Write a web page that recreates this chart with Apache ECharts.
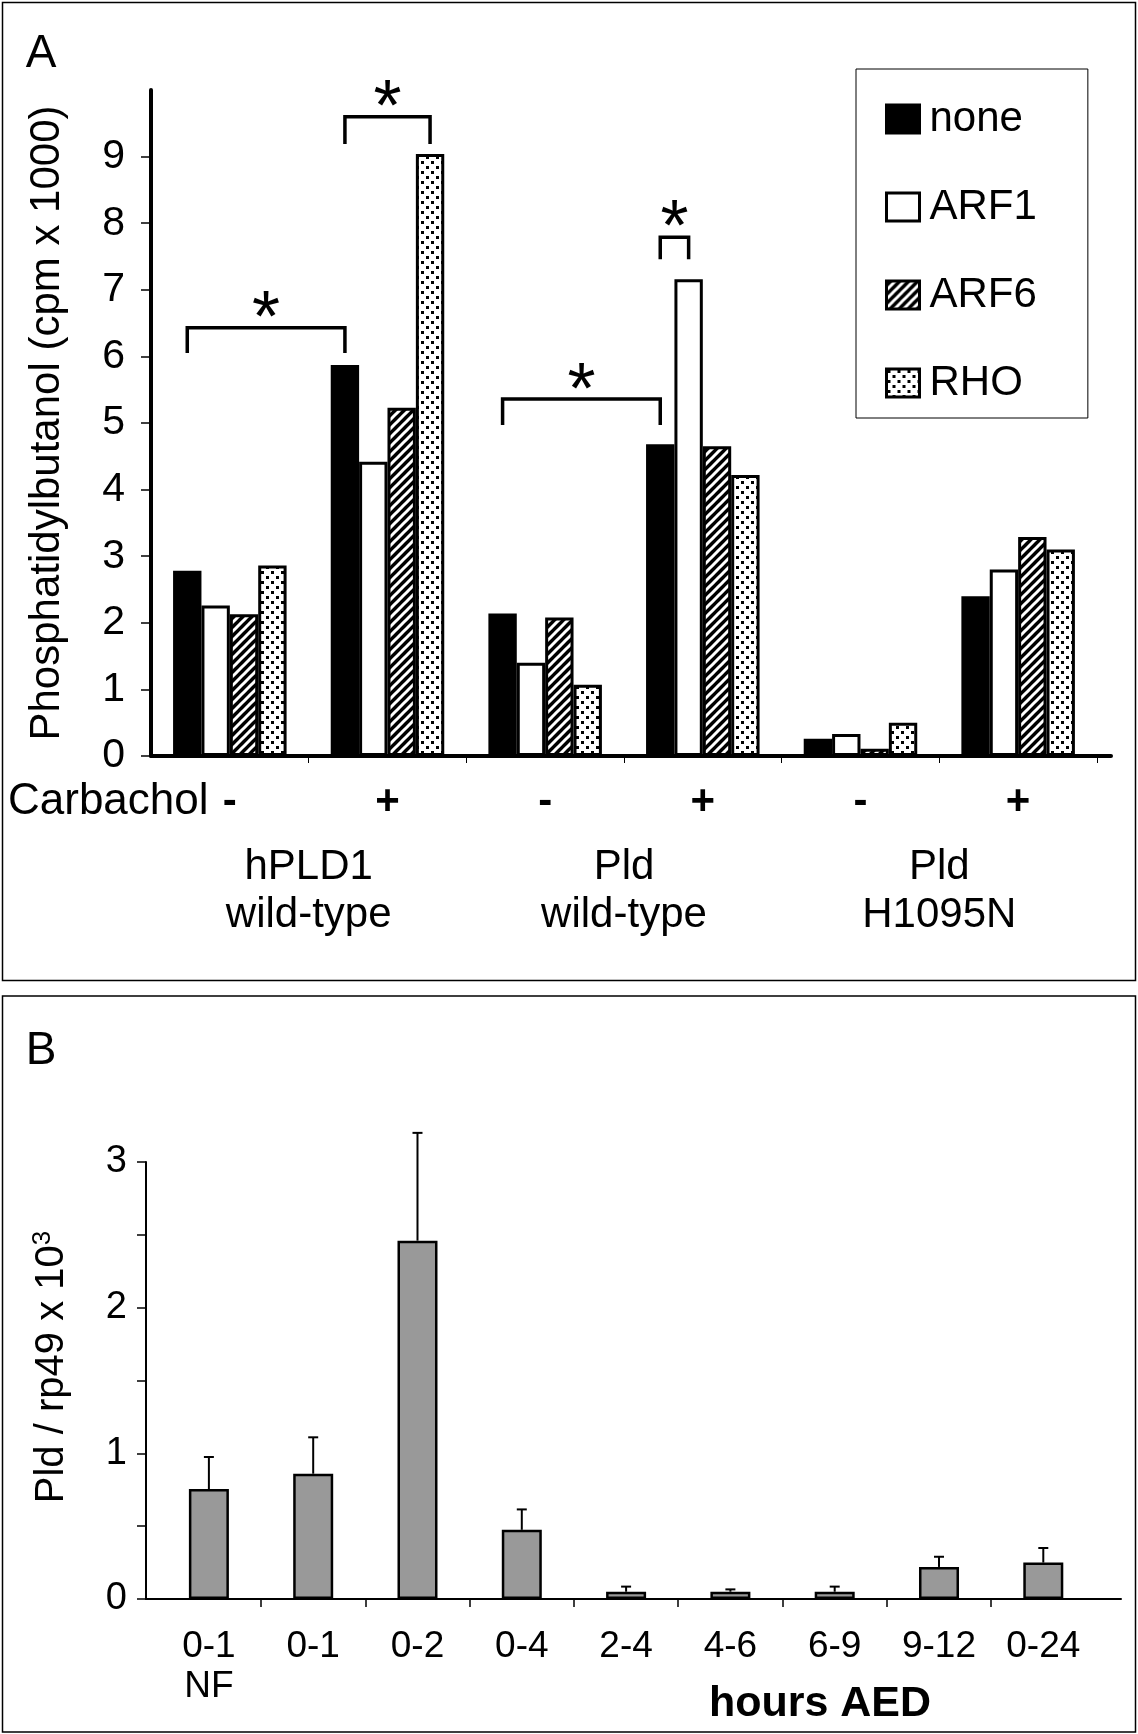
<!DOCTYPE html>
<html><head><meta charset="utf-8">
<script src="https://cdn.jsdelivr.net/npm/echarts@6/dist/echarts.min.js"></script>
<style>html,body{margin:0;padding:0;background:#fff}#c{width:1138px;height:1734px}</style>
</head><body><div id="c"></div>
<script>
// ---------- Panel A data ----------
const carbachol = ['-', '+', '-', '+', '-', '+'];
const constructs = ['hPLD1\nwild-type', 'Pld\nwild-type', 'Pld\nH1095N'];
const treatments = ['none', 'ARF1', 'ARF6', 'RHO'];
const noneVals = [2.78, 5.87, 2.14, 4.68, 0.26, 2.40];
const arf1Vals = [2.26, 4.42, 1.40, 7.16, 0.33, 2.80];
const arf6Vals = [2.13, 5.23, 2.08, 4.65, 0.11, 3.29];
const rhoVals  = [2.86, 9.04, 1.07, 4.22, 0.50, 3.10];
const yTicksA = [0, 1, 2, 3, 4, 5, 6, 7, 8, 9];
// significance brackets: [cat1, bar1, cat2, bar2, top, legEnd, star]
const brackets = [
  [0, 0, 1, 0, 6.43, 6.05, 6.78],
  [1, 0, 1, 3, 9.60, 9.19, 9.95],
  [2, 0, 3, 0, 5.36, 4.97, 5.70],
  [3, 0, 3, 1, 7.79, 7.46, 8.15]
];
// ---------- Panel B data ----------
const hours = ['0-1\nNF', '0-1', '0-2', '0-4', '2-4', '4-6', '6-9', '9-12', '0-24'];
const pldMean = [0.755, 0.86, 2.46, 0.475, 0.05, 0.05, 0.05, 0.22, 0.25];
const pldErr  = [0.22, 0.25, 0.74, 0.14, 0.035, 0.016, 0.035, 0.07, 0.10];
const yTicksB = [0, 1, 2, 3];

const FONT = '"Liberation Sans", Arial, Helvetica, sans-serif';
const GAP = 0.28;

function stripeTile() {
  const s = 9, c = document.createElement('canvas'); c.width = s; c.height = s;
  const g = c.getContext('2d');
  g.fillStyle = '#000'; g.fillRect(0, 0, s, s);
  g.strokeStyle = '#fff'; g.lineWidth = 3; g.lineCap = 'square';
  for (let k = -1; k <= 1; k++) { g.beginPath(); g.moveTo(k * s, s); g.lineTo(k * s + s, 0); g.stroke(); }
  return c;
}
function dotTile() {
  const s = 10, c = document.createElement('canvas'); c.width = s; c.height = s;
  const g = c.getContext('2d');
  g.fillStyle = '#fff'; g.fillRect(0, 0, s, s);
  g.fillStyle = '#000'; g.fillRect(1, 1, 3, 3); g.fillRect(6, 6, 3, 3);
  return c;
}
const fills = ['#000', '#fff', { image: stripeTile(), repeat: 'repeat' }, { image: dotTile(), repeat: 'repeat' }];
const seriesValsA = [noneVals, arf1Vals, arf6Vals, rhoVals];

const chart = echarts.init(document.getElementById('c'), null, { renderer: 'canvas' });

function renderBracket(params, api) {
  const band = api.size([1, 0])[0];
  const bw = band * (1 - GAP) / 4;
  const xa = api.coord([api.value(0), 0])[0] + (api.value(1) - 1.5) * bw;
  const xb = api.coord([api.value(2), 0])[0] + (api.value(3) - 1.5) * bw;
  const yTop = api.coord([0, api.value(4)])[1];
  const yLeg = api.coord([0, api.value(5)])[1];
  const yStar = api.coord([0, api.value(6)])[1];
  return { type: 'group', children: [
    { type: 'polyline', shape: { points: [[xa, yLeg], [xa, yTop], [xb, yTop], [xb, yLeg]] },
      style: { stroke: '#000', lineWidth: 3.5, fill: null } },
    { type: 'text', x: (xa + xb) / 2, y: yStar + 17,
      style: { text: '*', font: '72px ' + FONT, fill: '#000', align: 'center', verticalAlign: 'middle' } }
  ]};
}
function renderErr(params, api) {
  const x = api.value(0), m = api.value(1), e = api.value(2);
  const p0 = api.coord([x, m]), p1 = api.coord([x, m + e]);
  return { type: 'group', children: [
    { type: 'line', shape: { x1: p0[0], y1: p0[1], x2: p1[0], y2: p1[1] }, style: { stroke: '#000', lineWidth: 2 } },
    { type: 'line', shape: { x1: p1[0] - 5, y1: p1[1], x2: p1[0] + 5, y2: p1[1] }, style: { stroke: '#000', lineWidth: 2 } }
  ]};
}

const series = [];
treatments.forEach((t, i) => {
  series.push({
    name: t, type: 'bar', xAxisIndex: 0, yAxisIndex: 0,
    barCategoryGap: (GAP * 100) + '%', barGap: '0%',
    data: seriesValsA[i].map((v, k) => [k, v]),
    itemStyle: { color: fills[i], borderColor: '#000', borderWidth: 3 },
    emphasis: { disabled: true }, animation: false
  });
});
series.push({
  type: 'custom', xAxisIndex: 0, yAxisIndex: 0, renderItem: renderBracket, clip: false, silent: true, z: 10,
  data: brackets, animation: false
});
series.push({
  name: 'Pld', type: 'bar', xAxisIndex: 2, yAxisIndex: 1, barWidth: 40,
  data: pldMean.map((v, k) => [k, v]),
  itemStyle: { color: '#999999', borderColor: '#000', borderWidth: 2.5 },
  emphasis: { disabled: true }, animation: false
});
series.push({
  type: 'custom', xAxisIndex: 2, yAxisIndex: 1, renderItem: renderErr, clip: false, silent: true, z: 10,
  data: pldMean.map((v, k) => [k, v, pldErr[k]]), animation: false
});

const option = {
  animation: false,
  backgroundColor: '#fff',
  grid: [
    { left: 151, top: 90, width: 960, height: 666 },
    { left: 146, top: 1162, width: 975, height: 437 }
  ],
  legend: {
    data: treatments, orient: 'vertical', left: 856, top: 69,
    padding: [29, 51, 14, 29], itemGap: 46, itemWidth: 33, itemHeight: 28,
    borderColor: '#000', borderWidth: 1, icon: 'rect',
    itemStyle: { borderColor: '#000', borderWidth: 3 },
    textStyle: { fontFamily: FONT, fontSize: 42, color: '#000', lineHeight: 30, padding: [0, 0, 0, 5] },
    selectedMode: false
  },
  xAxis: [
    { type: 'value', gridIndex: 0, min: -0.5, max: 5.589,
      axisLine: { show: true, onZero: false, lineStyle: { color: '#000', width: 4 } },
      axisTick: { show: true, customValues: [0.5, 1.5, 2.5, 3.5, 4.5, 5.5], length: 7, lineStyle: { color: '#000', width: 1 } },
      axisLabel: { customValues: [0, 1, 2, 3, 4, 5], formatter: v => carbachol[Math.round(v)],
        fontFamily: FONT, fontSize: 42, fontWeight: 'bold', color: '#000', lineHeight: 42, margin: 25 },
      splitLine: { show: false } },
    { type: 'value', gridIndex: 0, min: -0.5, max: 5.589, position: 'bottom',
      axisLine: { show: false, onZero: false }, axisTick: { show: false },
      axisLabel: { customValues: [0.5, 2.5, 4.5], formatter: v => constructs[Math.round((v - 0.5) / 2)],
        fontFamily: FONT, fontSize: 42, color: '#000', lineHeight: 48, margin: 87 },
      splitLine: { show: false } },
    { type: 'value', gridIndex: 1, min: -0.603, max: 8.745,
      axisLine: { show: true, onZero: false, lineStyle: { color: '#000', width: 2 } },
      axisTick: { show: true, customValues: [0.5, 1.5, 2.5, 3.5, 4.5, 5.5, 6.5, 7.5], length: 8, lineStyle: { color: '#000', width: 1.5 } },
      axisLabel: { customValues: [0, 1, 2, 3, 4, 5, 6, 7, 8], formatter: v => hours[Math.round(v)],
        fontFamily: FONT, fontSize: 37, color: '#000', lineHeight: 40, margin: 28 },
      splitLine: { show: false } }
  ],
  yAxis: [
    { type: 'value', gridIndex: 0, min: 0, max: 10, interval: 1,
      axisLine: { show: true, onZero: false, lineStyle: { color: '#000', width: 4 } },
      axisTick: { show: true, customValues: yTicksA, length: 10, lineStyle: { color: '#000', width: 1.5 } },
      axisLabel: { customValues: yTicksA, fontFamily: FONT, fontSize: 41, color: '#000', margin: 26 },
      splitLine: { show: false } },
    { type: 'value', gridIndex: 1, min: 0, max: 3, interval: 0.5,
      axisLine: { show: true, onZero: false, lineStyle: { color: '#000', width: 2 } },
      axisTick: { show: true, length: 9, lineStyle: { color: '#000', width: 1.5 } },
      axisLabel: { customValues: yTicksB, fontFamily: FONT, fontSize: 38, color: '#000', margin: 19 },
      splitLine: { show: false } }
  ],
  graphic: [
    { type: 'rect', shape: { x: 2.5, y: 2.5, width: 1133, height: 978 }, style: { fill: null, stroke: '#000', lineWidth: 1.5 }, silent: true },
    { type: 'rect', shape: { x: 2.5, y: 996, width: 1133, height: 736 }, style: { fill: null, stroke: '#000', lineWidth: 1.5 }, silent: true },
    { type: 'text', x: 41, y: 54, style: { text: 'A', font: '46px ' + FONT, fill: '#000', align: 'center', verticalAlign: 'middle' } },
    { type: 'text', x: 41, y: 1051, style: { text: 'B', font: '46px ' + FONT, fill: '#000', align: 'center', verticalAlign: 'middle' } },
    { type: 'text', x: 8, y: 802, style: { text: 'Carbachol', font: '44px ' + FONT, fill: '#000', align: 'left', verticalAlign: 'middle' } },
    { type: 'text', x: 47, y: 423, rotation: Math.PI / 2,
      style: { text: 'Phosphatidylbutanol (cpm x 1000)', font: '42px ' + FONT, fill: '#000', align: 'center', verticalAlign: 'middle' } },
    { type: 'text', x: 52, y: 1367, rotation: Math.PI / 2,
      style: { text: 'Pld / rp49 x 10{s|3}', font: '40px ' + FONT, fill: '#000', align: 'center', verticalAlign: 'middle', lineHeight: 44,
        rich: { s: { fontFamily: FONT, fontSize: 26, fill: '#000', verticalAlign: 'top', lineHeight: 26 } } } },
    { type: 'text', x: 820, y: 1704, style: { text: 'hours AED', font: 'bold 43px ' + FONT, fill: '#000', align: 'center', verticalAlign: 'middle' } }
  ],
  series: series
};
chart.setOption(option);
</script>
</body></html>
